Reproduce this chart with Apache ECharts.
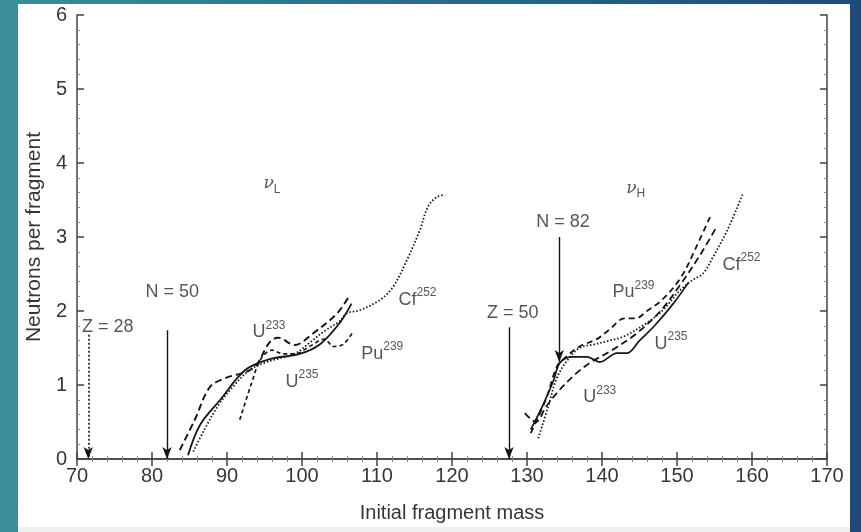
<!DOCTYPE html>
<html>
<head>
<meta charset="utf-8">
<script src="https://cdn.jsdelivr.net/npm/echarts@6/dist/echarts.min.js"></script>
<style>
  html, body { margin:0; padding:0; width:861px; height:532px; overflow:hidden; }
  body { background: linear-gradient(90deg, #3b8e9c 0%, #2a6f8c 45%, #1f4a78 100%); position:relative; }
  #panel { position:absolute; left:18px; top:4px; width:832px; height:523px; background:#ffffff; }
  #strip { position:absolute; left:18px; top:527px; width:832px; height:5px; background:#eef0f0; }
  #chart { position:absolute; left:0; top:0; width:861px; height:532px; }
</style>
</head>
<body>
<div id="panel"></div>
<div id="strip"></div>
<div id="chart"></div>
<script>
// ---- data ----
const xMin = 70, xMax = 170, xStep = 10;
const yMin = 0, yMax = 6, yStep = 1;

// light fragment group
const u233Light = [[83.7,0.12],[85.7,0.53],[87.7,0.97],[89.7,1.09],[93.5,1.23],[95.7,1.58],[96.8,1.64],[99,1.54],[101.5,1.7],[104.7,1.97],[106.2,2.19]];
const u235Light = [[84.8,0.05],[86.4,0.46],[89.1,0.8],[92.4,1.2],[95.7,1.35],[99.7,1.42],[102.4,1.55],[105.1,1.85],[106.6,2.1]];
const pu239Light = [[91.7,0.53],[93.3,1.03],[94.5,1.35],[96,1.47],[97.5,1.42],[99,1.42],[101,1.52],[103,1.62],[104.2,1.52],[105.5,1.55],[106.8,1.72]];
const cf252Light = [[85.5,0.1],[87,0.4],[89,0.75],[91,1.0],[93,1.2],[95,1.3],[97,1.36],[99,1.42],[101,1.57],[103,1.73],[105,1.86],[106,1.97],[107.7,2.01],[110.4,2.15],[112.1,2.32],[114,2.69],[115.7,3.09],[116.8,3.41],[118,3.54],[119.1,3.57]];

// heavy fragment group
const u233Heavy = [[129.7,0.62],[131.2,0.5],[132.5,0.7],[134.3,0.93],[136.6,1.16],[138.4,1.3],[141,1.45],[144.4,1.68],[147.7,1.99],[150.4,2.35],[153.1,2.76],[155.3,3.14]];
const u235Heavy = [[130.5,0.4],[132,0.7],[133.5,1.05],[134.4,1.3],[136,1.38],[138,1.38],[139.7,1.31],[142,1.43],[143.3,1.43],[145,1.6],[147,1.8],[149.5,2.1],[151.5,2.38]];
const pu239Heavy = [[130.5,0.35],[132.5,0.8],[134,1.25],[135.2,1.38],[137,1.52],[139.3,1.62],[141,1.75],[143,1.9],[144.5,1.9],[146,2.0],[148,2.15],[150.5,2.45],[152.5,2.85],[154.4,3.27]];
const cf252Heavy = [[131.5,0.28],[132.8,0.7],[134,1.1],[135.5,1.35],[137,1.5],[139,1.55],[141,1.6],[143,1.66],[146,1.84],[148.1,2.01],[150.4,2.28],[152.1,2.42],[153.5,2.51],[154.8,2.73],[156.7,3.09],[158.8,3.59]];

// magic-number arrows
const arrowX = [71.5, 82, 127.6, 134.3];
const arrowTop = [1.68, 1.74, 1.78, 3.0];
const arrowBottom = [0, 0, 0, 1.31];
const arrowDotted = [true, false, false, false];

// text annotations: [x, y, label]
const annotations = [
  [96, 3.7, '{n|ν}{sb|L}'],
  [144.5, 3.64, '{n|ν}{sb|H}'],
  [74.1, 1.81, '{t|Z = 28}'],
  [82.7, 2.28, '{t|N = 50}'],
  [128.1, 2.0, '{t|Z = 50}'],
  [134.8, 3.23, '{t|N = 82}'],
  [95.6, 1.74, '{t|U}{s|233}'],
  [100.0, 1.07, '{t|U}{s|235}'],
  [110.7, 1.45, '{t|Pu}{s|239}'],
  [115.4, 2.18, '{t|Cf}{s|252}'],
  [144.2, 2.28, '{t|Pu}{s|239}'],
  [149.2, 1.58, '{t|U}{s|235}'],
  [139.7, 0.86, '{t|U}{s|233}'],
  [158.6, 2.65, '{t|Cf}{s|252}']
];

const ink = '#161616';
const font = 'Liberation Sans, Arial, sans-serif';

function curve(data, type, width) {
  return {
    type: 'line', data: data, smooth: 0.35, symbol: 'none',
    lineStyle: { color: ink, width: width, type: type }, z: 3
  };
}

const arrowLines = arrowX.map((x, i) => ([
  { coord: [x, arrowTop[i]], lineStyle: { type: arrowDotted[i] ? [2, 2] : 'solid', width: arrowDotted[i] ? 1.6 : 1.4, color: ink } },
  { coord: [x, arrowBottom[i]] }
]));

const axisLabelStyle = { color: '#363636', fontSize: 20, fontFamily: font };

const option = {
  animation: false,
  backgroundColor: 'transparent',
  grid: { left: 77, right: 34, top: 15, bottom: 73 },
  xAxis: [
    {
      type: 'value', min: xMin, max: xMax, interval: xStep, position: 'bottom',
      name: 'Initial fragment mass', nameLocation: 'middle', nameGap: 44,
      nameTextStyle: { color: '#363636', fontSize: 20, fontFamily: font },
      axisLine: { show: true, lineStyle: { color: '#444', width: 1.5 } },
      axisTick: { show: true, inside: true, length: 7, lineStyle: { color: '#444', width: 1.5 } },
      minorTick: { show: true, splitNumber: 5, length: 3, lineStyle: { color: '#888' } },
      axisLabel: Object.assign({ margin: 7 }, axisLabelStyle),
      splitLine: { show: false }
    },
    {
      type: 'value', min: xMin, max: xMax, interval: xStep, position: 'top',
      axisLine: { show: true, lineStyle: { color: '#444', width: 1.5 } },
      axisTick: { show: true, inside: true, length: 7, lineStyle: { color: '#444', width: 1.5 } },
      minorTick: { show: true, splitNumber: 5, length: 3, lineStyle: { color: '#888' } },
      axisLabel: { show: false }, splitLine: { show: false }
    }
  ],
  yAxis: [
    {
      type: 'value', min: yMin, max: yMax, interval: yStep, position: 'left',
      name: 'Neutrons per fragment', nameLocation: 'middle', nameGap: 31, nameRotate: 90,
      nameTextStyle: { color: '#363636', fontSize: 21, fontFamily: font },
      axisLine: { show: true, lineStyle: { color: '#444', width: 1.5 } },
      axisTick: { show: true, inside: true, length: 7, lineStyle: { color: '#444', width: 1.5 } },
      minorTick: { show: true, splitNumber: 5, length: 3, lineStyle: { color: '#888' } },
      axisLabel: Object.assign({ margin: 10 }, axisLabelStyle),
      splitLine: { show: false }
    },
    {
      type: 'value', min: yMin, max: yMax, interval: yStep, position: 'right',
      axisLine: { show: true, lineStyle: { color: '#444', width: 1.5 } },
      axisTick: { show: true, inside: true, length: 7, lineStyle: { color: '#444', width: 1.5 } },
      minorTick: { show: true, splitNumber: 5, length: 3, lineStyle: { color: '#888' } },
      axisLabel: { show: false }, splitLine: { show: false }
    }
  ],
  series: [
    curve(u233Light, [7, 4], 2),
    curve(u235Light, 'solid', 1.8),
    curve(pu239Light, [4, 3], 1.7),
    curve(cf252Light, [1.5, 2], 1.8),
    curve(u233Heavy, [7, 4], 1.8),
    curve(u235Heavy, 'solid', 1.7),
    curve(pu239Heavy, [6, 4], 1.8),
    curve(cf252Heavy, [1.5, 2], 1.8),
    {
      type: 'scatter', data: annotations.map(a => ({ value: [a[0], a[1]], label: { formatter: a[2] } })),
      symbolSize: 0, silent: true, z: 5,
      label: {
        show: true, position: 'inside', color: '#2a2a2a', fontFamily: font,
        rich: {
          t: { fontSize: 18, fontFamily: font, color: '#2a2a2a', lineHeight: 22, verticalAlign: 'bottom' },
          s: { fontSize: 12, fontFamily: font, color: '#2a2a2a', lineHeight: 22, verticalAlign: 'top', padding: [0, 0, 0, 0] },
          n: { fontSize: 17, fontFamily: 'DejaVu Serif, serif', fontStyle: 'italic', color: '#2a2a2a', lineHeight: 20, verticalAlign: 'top' },
          sb: { fontSize: 12, fontFamily: font, color: '#2a2a2a', lineHeight: 20, verticalAlign: 'bottom' }
        }
      },
      markLine: {
        silent: true, symbol: ['none', 'arrow'], symbolSize: [7, 12],
        label: { show: false },
        lineStyle: { color: ink, width: 1.4 },
        data: arrowLines
      }
    }
  ]
};

const chart = echarts.init(document.getElementById('chart'), null, { renderer: 'canvas' });
chart.setOption(option);
</script>
</body>
</html>
